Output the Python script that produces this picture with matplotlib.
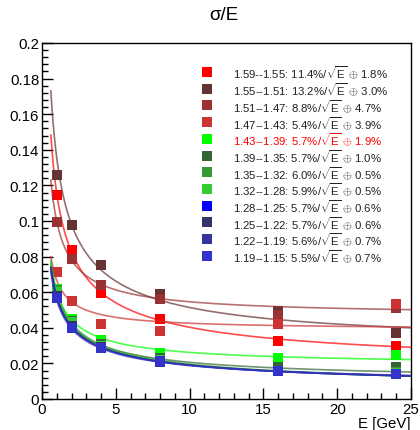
import numpy as np
import matplotlib
matplotlib.use("Agg")
import matplotlib.pyplot as plt
from matplotlib.ticker import MultipleLocator, FuncFormatter

plt.rcParams['font.family'] = ['Liberation Sans', 'DejaVu Sans']
plt.rcParams['mathtext.fontset'] = 'custom'
plt.rcParams['mathtext.rm'] = 'Liberation Sans'
plt.rcParams['mathtext.it'] = 'Liberation Sans:italic'
plt.rcParams['mathtext.bf'] = 'Liberation Sans:bold'

# ---- data ----
energies = [1, 2, 4, 8, 16, 24]
ranges = ["1.59--1.55", "1.55--1.51", "1.51--1.47", "1.47--1.43",
          "1.43--1.39", "1.39--1.35", "1.35--1.32", "1.32--1.28",
          "1.28--1.25", "1.25--1.22", "1.22--1.19", "1.19--1.15"]
stoch = [11.4, 13.2, 8.8, 5.4, 5.7, 5.7, 6.0, 5.9, 5.7, 5.7, 5.6, 5.5]   # %
const = [1.8, 3.0, 4.7, 3.9, 1.9, 1.0, 0.5, 0.5, 0.6, 0.6, 0.7, 0.7]     # %
colors = ["#ff0000", "#663333", "#993333", "#cc3333",
          "#00ff00", "#336633", "#339933", "#33cc33",
          "#0000ff", "#333366", "#333399", "#3333cc"]
res_1_59 = [0.1146, 0.0837, 0.0594, 0.0448, 0.0327, 0.0299]
res_1_55 = [0.1260, 0.0978, 0.0754, 0.0592, 0.0495, 0.0373]
res_1_51 = [0.0997, 0.0788, 0.0642, 0.0560, 0.0470, 0.0510]
res_1_47 = [0.0715, 0.0553, 0.0422, 0.0383, 0.0424, 0.0532]
res_1_43 = [0.0616, 0.0452, 0.0330, 0.0261, 0.0233, 0.0246]
res_1_39 = [0.0600, 0.0440, 0.0310, 0.0230, 0.0177, 0.0177]
res_1_35 = [0.0610, 0.0430, 0.0300, 0.0220, 0.0160, 0.0150]
res_1_32 = [0.0600, 0.0430, 0.0300, 0.0220, 0.0155, 0.0145]
res_1_28 = [0.0580, 0.0410, 0.0290, 0.0215, 0.0160, 0.0140]
res_1_25 = [0.0580, 0.0410, 0.0290, 0.0210, 0.0157, 0.0138]
res_1_22 = [0.0570, 0.0400, 0.0285, 0.0210, 0.0157, 0.0140]
res_1_19 = [0.0566, 0.0398, 0.0284, 0.0215, 0.0157, 0.0140]
series = [res_1_59, res_1_55, res_1_51, res_1_47, res_1_43, res_1_39,
          res_1_35, res_1_32, res_1_28, res_1_25, res_1_22, res_1_19]

# ---- figure ----
W, H = 420, 431
fig = plt.figure(figsize=(W / 100, H / 100), dpi=100)
ax = fig.add_axes([42 / W, (H - 400) / H, 369 / W, 356 / H])

e_fit = np.linspace(0.6, 25, 300)
for i, (vals, a, b, c) in enumerate(zip(series, stoch, const, colors)):
    fit = np.sqrt((a / 100 / np.sqrt(e_fit)) ** 2 + (b / 100) ** 2)
    ax.plot(e_fit, fit, color=c, lw=1.2, alpha=0.7, zorder=2 + 2 * i)
    ax.plot(energies, vals, ls='none', marker='s', ms=7.2, mew=0,
            color=c, zorder=3 + 2 * i)

ax.set_xlim(0, 25)
ax.set_ylim(0, 0.2)
ax.xaxis.set_major_locator(MultipleLocator(5))
ax.xaxis.set_minor_locator(MultipleLocator(1))
ax.yaxis.set_major_locator(MultipleLocator(0.02))
ax.yaxis.set_minor_locator(MultipleLocator(0.004))
ax.yaxis.set_major_formatter(FuncFormatter(lambda v, p: "%g" % round(v, 3)))
ax.tick_params(which='both', direction='in', top=False, right=False,
               labelsize=10.8, colors='black')
ax.tick_params(which='major', length=8, width=1)
ax.tick_params(which='minor', length=4.5, width=1)
ax.tick_params(axis='y', pad=2)
ax.tick_params(axis='x', pad=2)
for s in ax.spines.values():
    s.set_linewidth(1.0)

ax.text(1.0, -0.047, "E [GeV]", transform=ax.transAxes, ha='right', va='top',
        fontsize=10.8)
fig.text(224 / W, 1 - 16 / H, "σ/E", ha='center', va='center', fontsize=13.5)

# legend
y0 = (400 - 73) / 356
dy = 16.7 / 356
for i, (r, a, b, c) in enumerate(zip(ranges, stoch, const, colors)):
    y = y0 - i * dy
    ax.plot([(207 - 42) / 369], [y], marker='s', ms=7.2, mew=0, color=c,
            transform=ax.transAxes, clip_on=False, zorder=40)
    tcol = '#ff0000' if r == "1.43--1.39" else '#222222'
    ax.text((233 - 42) / 369, y,
            r"%s: %.1f%%/$\sqrt{\mathrm{E}}$ $\oplus$ %.1f%%" % (r, a, b),
            transform=ax.transAxes, ha='left', va='center', fontsize=8.2,
            color=tcol, zorder=40)

fig.savefig("out.png", dpi=100, facecolor='white')
